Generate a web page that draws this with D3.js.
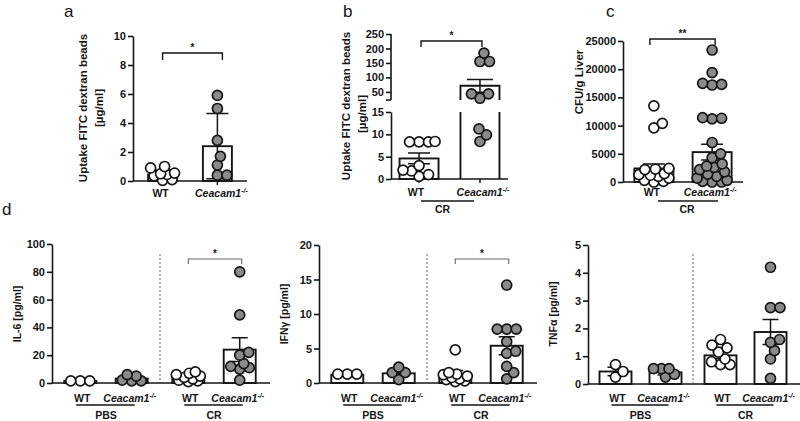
<!DOCTYPE html>
<html><head><meta charset="utf-8">
<script src="https://cdn.jsdelivr.net/npm/d3@7"></script>
<style>body{margin:0;background:#fff}svg{display:block}</style>
</head><body><script>
// ---------- DATA ----------
const cats = ["WT", "Ceacam1"];
const groups = ["PBS", "CR"];

// panel a
const aWT = [1.0, 0.9, 0.55, 0.5, 0.45, 0.35, 0.1, 0.05];
const aKO = [5.9, 5.0, 2.8, 1.7, 1.1, 0.4, 0.4];
const aMean = [0.45, 2.4];
const aErr = [0.3, 2.25];
const aTicks = [0, 2, 4, 6, 8, 10];

// panel b (broken axis)
const bWT = [8.4, 8.3, 8.3, 8.3, 3.0, 2.0, 1.8, 1.0, 0.6];
const bKO = [184, 155, 155, 43, 43, 28, 11.2, 9.9, 8.4];
const bMean = [4.6, 71];
const bErr = [1.2, 22];
const bLowTicks = [0, 5, 10, 15];
const bHighTicks = [50, 100, 150, 200, 250];

// panel c
const cWT = [13500, 10400, 9600, 2400, 2300, 2200, 1500, 1300, 1200, 1000, 700, 300, 100, 0];
const cKO = [23400, 19400, 17500, 17300, 17200, 11400, 11300, 11200, 7000, 5000, 4300, 3200, 2800, 2600, 2200, 1800, 1400, 1000, 700, 300, 100, 0, 0];
const cMean = [2400, 5300];
const cErr = [800, 1400];
const cTicks = [0, 5000, 10000, 15000, 20000, 25000];

// panel d : IL-6
const il6PbsWT = [1.5, 1.5, 1.5];
const il6PbsKO = [6, 5, 2, 1.5, 1.5];
const il6CrWT = [8, 7, 6, 5, 4, 3, 2, 1.5, 1];
const il6CrKO = [80, 49, 22, 20, 14, 12, 11, 10, 2];
const il6Mean = [1.5, 3.2, 4.2, 24];
const il6Err = [0.2, 1.0, 0.9, 8.5];
const il6Ticks = [0, 20, 40, 60, 80, 100];

// panel d : IFNγ
const ifnPbsWT = [1.3, 1.3, 1.3];
const ifnPbsKO = [2.3, 1.5, 1.5, 0.5];
const ifnCrWT = [4.8, 1.5, 1.3, 1.2, 1.0, 0.8, 0.6, 0.5, 0.3, 0.2];
const ifnCrKO = [14.2, 7.8, 7.8, 7.8, 6.0, 4.6, 4.3, 2.4, 1.5, 0.6];
const ifnMean = [1.2, 1.4, 1.3, 5.4];
const ifnErr = [0.05, 0.4, 0.5, 1.3];
const ifnTicks = [0, 5, 10, 15, 20];

// panel d : TNFα
const tnfPbsWT = [0.7, 0.45, 0.25];
const tnfPbsKO = [0.55, 0.55, 0.55, 0.35, 0.25];
const tnfCrWT = [1.6, 1.4, 1.3, 1.15, 0.9, 0.8, 0.7, 0.7];
const tnfCrKO = [4.2, 2.75, 2.75, 1.6, 1.5, 1.2, 0.9, 0.2];
const tnfMean = [0.45, 0.42, 1.03, 1.87];
const tnfErr = [0.15, 0.1, 0.12, 0.45];
const tnfTicks = [0, 1, 2, 3, 4, 5];

// ---------- STYLE ----------
const FONT = '"Liberation Sans", Arial, Helvetica, sans-serif';
const INK = "#151515";
const KOFILL = "#8a8a8a";
const R = 5;

const svg = d3.select("body").append("svg").attr("width", 800).attr("height", 421)
  .attr("font-family", FONT);
svg.append("rect").attr("width", 800).attr("height", 421).attr("fill", "#fff");

// constrained beeswarm layout (points may overlap when the column is full)
function swarm(vals, yf, r, maxW) {
  const dmin = 2 * r * 0.92;
  const pts = vals.map(v => ({ v, y: yf(v) })).sort((a, b) => b.y - a.y);
  const placed = [];
  const minDist = (x, y) => placed.reduce((m, q) => Math.min(m, Math.hypot(q.x - x, q.y - y)), Infinity);
  pts.forEach(p => {
    let chosen = null, bestX = 0, bestD = -1;
    for (let c = 0; c <= maxW + 1e-9 && chosen === null; c += 0.5) {
      for (const s of (c === 0 ? [1] : [1, -1])) {
        const x = s * c, md = minDist(x, p.y);
        if (md >= dmin) { chosen = x; break; }
        if (md > bestD) { bestD = md; bestX = x; }
      }
    }
    p.x = chosen === null ? bestX : chosen;
    placed.push(p);
  });
  return placed;
}

function yAxis(scale, ticks, x) {
  const ax = d3.axisLeft(scale).tickValues(ticks).tickSize(5).tickSizeOuter(0).tickPadding(2).tickFormat(d3.format("d"));
  const g = svg.append("g").attr("transform", `translate(${x},0)`).call(ax)
    .attr("font-family", FONT);
  g.selectAll("path,line").attr("stroke", INK).attr("stroke-width", 1.6);
  g.selectAll("text").attr("font-size", 11).attr("font-weight", "bold").attr("fill", INK);
  return g;
}

function ceaLabel(x, y, size) {
  const t = svg.append("text").attr("x", x).attr("y", y).attr("text-anchor", "middle")
    .attr("font-size", size || 10.5).attr("font-weight", "bold").attr("fill", INK);
  t.append("tspan").attr("font-style", "italic").text("Ceacam1");
  t.append("tspan").attr("font-style", "italic").attr("font-size", 7).attr("dy", -4).text("-/-");
}
function plainLabel(x, y, txt, size, weight) {
  svg.append("text").attr("x", x).attr("y", y).attr("text-anchor", "middle")
    .attr("font-size", size || 10.5).attr("font-weight", weight || "bold").attr("fill", INK).text(txt);
}
function yLabel(x, y, lines, size, dx) {
  const g = svg.append("g").attr("transform", `translate(${x},${y}) rotate(-90)`);
  lines.forEach((l, i) => g.append("text").attr("x", i * (dx || 0)).attr("y", i * 16).attr("text-anchor", "middle")
    .attr("font-size", size || 10.5).attr("font-weight", "bold").attr("fill", INK).text(l));
}
function bar(x, w, yTop, yBase) {
  svg.append("rect").attr("x", x - w / 2).attr("y", yTop).attr("width", w).attr("height", yBase - yTop)
    .attr("fill", "#fff").attr("stroke", INK).attr("stroke-width", 1.9);
}
function errBar(x, yLo, yHi, cap) {
  svg.append("path").attr("d", `M${x},${yLo}V${yHi}M${x - cap},${yHi}H${x + cap}M${x - cap},${yLo}H${x + cap}`)
    .attr("stroke", INK).attr("stroke-width", 1.5).attr("fill", "none");
}
function dots(x, pts, ko, r) {
  svg.append("g").selectAll("circle").data(pts).join("circle")
    .attr("cx", d => x + d.x).attr("cy", d => d.y).attr("r", r)
    .attr("fill", ko ? KOFILL : "#fff").attr("stroke", INK).attr("stroke-width", 1.7);
}
function bracket(x1, x2, y, h, stars, color, sw) {
  svg.append("path").attr("d", `M${x1},${y + h}V${y}H${x2}V${y + h}`)
    .attr("fill", "none").attr("stroke", color || INK).attr("stroke-width", sw || 1.4);
  svg.append("text").attr("x", (x1 + x2) / 2).attr("y", y - 2).attr("text-anchor", "middle")
    .attr("font-size", 10).attr("font-weight", "bold").attr("fill", INK).text(stars);
}
function hline(x1, x2, y, sw) {
  svg.append("line").attr("x1", x1).attr("x2", x2).attr("y1", y).attr("y2", y)
    .attr("stroke", INK).attr("stroke-width", sw || 1.6);
}
function panelLetter(x, y, t) {
  svg.append("text").attr("x", x).attr("y", y).attr("font-size", 17).attr("fill", INK).text(t);
}

// ---------- PANEL a ----------
(function () {
  const y = d3.scaleLinear().domain([0, 10]).range([181, 36]);
  const x = d3.scalePoint().domain(cats).range([133, 247]).padding(0.54);
  const bw = 29;
  const sets = [aWT, aKO];
  cats.forEach((c, i) => {
    bar(x(c), bw, y(aMean[i]), y(0));
    errBar(x(c), y(aMean[i] - aErr[i]), y(aMean[i] + aErr[i]), 11);
  });
  hline(133, 247, y(0));
  cats.forEach(c => svg.append("line").attr("x1", x(c)).attr("x2", x(c)).attr("y1", y(0)).attr("y2", y(0) + 4).attr("stroke", INK).attr("stroke-width", 1.5));
  yAxis(y, aTicks, 133);
  cats.forEach((c, i) => dots(x(c), swarm(sets[i], y, R, 12), i === 1, R));
  plainLabel(x("WT") - 2, 197, "WT");
  ceaLabel(x("Ceacam1") + 4, 197);
  yLabel(87, 108, ["Uptake FITC dextran beads", "[µg/ml]"], 11.5);
  bracket(x("WT"), x("Ceacam1") + 5, 53, 7, "*");
  panelLetter(64, 17, "a");
})();

// ---------- PANEL b ----------
(function () {
  const yL = d3.scaleLinear().domain([0, 15]).range([179, 112]);
  const yU = d3.scaleLinear().domain([22, 250]).range([100, 34]);
  const yf = v => v > 15 ? yU(v) : yL(v);
  const x = d3.scalePoint().domain(cats).range([391, 508]).padding(0.46);
  const bw = 39;
  const ax = 391;
  bar(x("WT"), bw, yL(bMean[0]), yL(0));
  errBar(x("WT"), yL(bMean[0] - bErr[0]), yL(bMean[0] + bErr[0]), 11);
  const xk = x("Ceacam1");
  svg.append("path").attr("d", `M${xk - bw / 2},${yL(0)}V${yL(15)}M${xk + bw / 2},${yL(0)}V${yL(15)}`)
    .attr("stroke", INK).attr("stroke-width", 1.9).attr("fill", "none");
  svg.append("path").attr("d", `M${xk - bw / 2},${yU(22)}V${yU(bMean[1])}H${xk + bw / 2}V${yU(22)}`)
    .attr("stroke", INK).attr("stroke-width", 1.9).attr("fill", "#fff");
  errBar(xk, yU(bMean[1] - bErr[1]), yU(bMean[1] + bErr[1]), 13);
  hline(ax, 508, yL(0));
  cats.forEach(c => svg.append("line").attr("x1", x(c)).attr("x2", x(c)).attr("y1", yL(0)).attr("y2", yL(0) + 4).attr("stroke", INK).attr("stroke-width", 1.5));
  yAxis(yL, bLowTicks, ax);
  const gU = yAxis(yU, bHighTicks, ax);
  gU.select("path.domain").remove();
  svg.append("line").attr("x1", ax).attr("x2", ax).attr("y1", yU(22)).attr("y2", yU(250)).attr("stroke", INK).attr("stroke-width", 1.6);
  svg.append("line").attr("x1", ax - 5).attr("x2", ax).attr("y1", yU(22)).attr("y2", yU(22)).attr("stroke", INK).attr("stroke-width", 1.6);
  dots(x("WT"), swarm(bWT, yf, R, 16), false, R);
  dots(xk, swarm(bKO, yf, R, 16), true, R);
  plainLabel(x("WT") - 3, 196, "WT");
  ceaLabel(xk + 3, 196);
  hline(x("WT") + 2, xk - 6, 201, 1.6);
  plainLabel((x("WT") + xk) / 2 - 7, 213, "CR");
  yLabel(350, 106, ["Uptake FITC dextran beads", "[µg/ml]"], 11.5, -8);
  bracket(x("WT") + 2, xk + 2, 41, 6, "*");
  panelLetter(343, 17, "b");
})();

// ---------- PANEL c ----------
(function () {
  const y = d3.scaleLinear().domain([0, 25000]).range([182, 41]);
  const x = d3.scalePoint().domain(cats).range([623, 743]).padding(0.53);
  const bw = 39;
  const sets = [cWT, cKO];
  cats.forEach((c, i) => {
    bar(x(c), bw, y(cMean[i]), y(0));
    errBar(x(c), y(cMean[i] - cErr[i]), y(cMean[i] + cErr[i]), 11);
  });
  hline(623, 743, y(0));
  yAxis(y, cTicks, 623);
  cats.forEach((c, i) => dots(x(c), swarm(sets[i], y, R, 15), i === 1, R));
  plainLabel(x("WT") - 2, 196, "WT");
  ceaLabel(x("Ceacam1") - 2, 196);
  hline(x("WT") + 4, x("Ceacam1") + 6, 201, 1.6);
  plainLabel((x("WT") + x("Ceacam1")) / 2 + 4, 213, "CR");
  yLabel(583, 82, ["CFU/g Liver"], 11.5);
  bracket(x("WT") - 4, x("Ceacam1") + 3, 39, 6, "**");
  panelLetter(606, 17, "c");
})();

// ---------- PANEL d ----------
function dPanel(ax, gw, yRange, dom, ticks, sets, means, errs, label, stars) {
  const y = d3.scaleLinear().domain(dom).range(yRange);
  const gx = d3.scaleBand().domain(groups).range([ax, ax + 2 * gw]);
  const ix = d3.scalePoint().domain(cats).range([0, gw]).padding(0.55);
  const bw = 32;
  const pos = [];
  groups.forEach(g => cats.forEach(c => pos.push(gx(g) + ix(c))));
  pos.forEach((px, i) => {
    bar(px, bw, y(means[i]), y(0));
    errBar(px, y(Math.max(0, means[i] - errs[i])), y(means[i] + errs[i]), 8);
  });
  hline(ax, ax + 2 * gw + 2, y(0));
  svg.append("line").attr("x1", ax + gw).attr("x2", ax + gw).attr("y1", 254).attr("y2", y(0))
    .attr("stroke", "#555").attr("stroke-width", 0.9).attr("stroke-dasharray", "2,2");
  yAxis(y, ticks, ax);
  pos.forEach((px, i) => dots(px, swarm(sets[i], y, R, 12), i % 2 === 1, R));
  groups.forEach(g => {
    const w = gx(g) + ix("WT"), k = gx(g) + ix("Ceacam1");
    plainLabel(w + 2, 402, "WT");
    ceaLabel(k - 2, 402);
    hline(w - 4, k + 3, 405, 1.6);
    plainLabel((w + k) / 2, 419, g);
  });
  yLabel(ax - 31, 314, [label], 10.5);
  if (stars) {
    bracket(gx("CR") + ix("WT"), gx("CR") + ix("Ceacam1") + 2, 259, 5, stars, "#666", 1.1);
  }
}
dPanel(52, 108, [383, 244], [0, 100], il6Ticks, [il6PbsWT, il6PbsKO, il6CrWT, il6CrKO], il6Mean, il6Err, "IL-6 [pg/ml]", "*");
dPanel(319, 108, [383, 245], [0, 20], ifnTicks, [ifnPbsWT, ifnPbsKO, ifnCrWT, ifnCrKO], ifnMean, ifnErr, "IFNγ [pg/ml]", "*");
dPanel(588, 105, [384, 245], [0, 5], tnfTicks, [tnfPbsWT, tnfPbsKO, tnfCrWT, tnfCrKO], tnfMean, tnfErr, "TNFα [pg/ml]", null);
panelLetter(2, 215, "d");
</script></body></html>
